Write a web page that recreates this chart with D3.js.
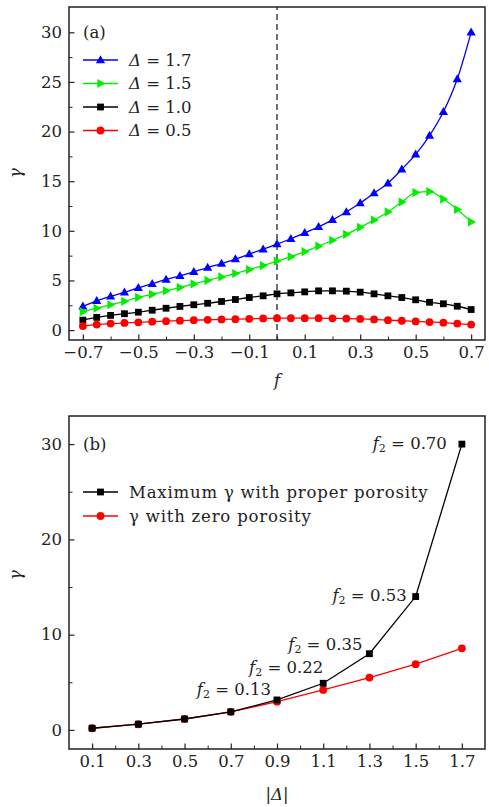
<!DOCTYPE html>
<html>
<head>
<meta charset="utf-8">
<script src="https://cdn.jsdelivr.net/npm/d3@7"></script>
<style>
  html, body { margin: 0; padding: 0; background: #fff; }
  svg { display: block; }
  text { font-family: "DejaVu Serif", "Liberation Serif", serif; fill: #222; }
</style>
</head>
<body>
<svg id="chart" width="489" height="807"></svg>
<script>
// ---------- Panel (a): gamma versus f for several Delta ----------
const fValues = [-0.7, -0.65, -0.6, -0.55, -0.5, -0.45, -0.4, -0.35, -0.3, -0.25, -0.2, -0.15, -0.1,
  -0.05, 0, 0.05, 0.1, 0.15, 0.2, 0.25, 0.3, 0.35, 0.4, 0.45, 0.5, 0.55, 0.6, 0.65, 0.7];

const gammaD17 = [2.4, 2.95, 3.4, 3.8, 4.25, 4.67, 5.1, 5.47, 5.87, 6.3, 6.7, 7.15, 7.65,
  8.15, 8.66, 9.2, 9.8, 10.4, 11.1, 11.9, 12.8, 13.8, 14.8, 16.2, 17.7, 19.6, 22.0, 25.3, 30.0];
const gammaD15 = [1.85, 2.2, 2.55, 2.9, 3.3, 3.6, 3.95, 4.3, 4.65, 5.0, 5.35, 5.7, 6.1,
  6.5, 6.95, 7.4, 7.9, 8.45, 9.05, 9.65, 10.35, 11.1, 11.9, 12.9, 13.85, 13.95, 13.2, 12.15, 10.9];
const gammaD10 = [1.0, 1.28, 1.48, 1.65, 1.8, 2.0, 2.2, 2.38, 2.55, 2.7, 2.88, 3.08, 3.28,
  3.45, 3.65, 3.75, 3.85, 3.95, 3.95, 3.92, 3.82, 3.65, 3.45, 3.28, 3.05, 2.8, 2.65, 2.4, 2.07];
const gammaD05 = [0.4, 0.55, 0.65, 0.72, 0.78, 0.85, 0.9, 0.95, 1.0, 1.03, 1.07, 1.1, 1.13,
  1.17, 1.2, 1.2, 1.2, 1.2, 1.18, 1.16, 1.12, 1.07, 1.0, 0.94, 0.87, 0.81, 0.75, 0.65, 0.55];

const seriesLabelsA = ["1.7", "1.5", "1.0", "0.5"];
const xTicksA = [-0.7, -0.5, -0.3, -0.1, 0.1, 0.3, 0.5, 0.7];
const yTicksA = [0, 5, 10, 15, 20, 25, 30];

// ---------- Panel (b): gamma versus |Delta| ----------
const deltaValues = [0.1, 0.3, 0.5, 0.7, 0.9, 1.1, 1.3, 1.5, 1.7];
const gammaMax = [0.18, 0.6, 1.15, 1.9, 3.15, 4.9, 8.0, 14.0, 30.0];
const gammaZero = [0.18, 0.6, 1.15, 1.9, 2.97, 4.2, 5.5, 6.9, 8.57];
const f2Delta = [0.9, 1.1, 1.3, 1.5, 1.7];
const f2Labels = ["0.13", "0.22", "0.35", "0.53", "0.70"];
const legendLabelsB = ["Maximum γ with proper porosity", "γ with zero porosity"];
const xTicksB = [0.1, 0.3, 0.5, 0.7, 0.9, 1.1, 1.3, 1.5, 1.7];
const yTicksB = [0, 10, 20, 30];

const svg = d3.select("#chart");
const FS = 16.5;
const fmtMinus = d => (d < 0 ? "\u2212" : "") + Math.abs(d).toFixed(1);

function frameAxes(g, x, y, xMajor, xMinor, yMajor, yMinor, xFmt, yFmt) {
  const [x0, x1] = x.range();
  const [y0, y1] = y.range();
  // minor ticks
  g.append("g").attr("transform", `translate(0,${y0})`)
    .call(d3.axisBottom(x).tickValues(xMinor).tickSize(-3.5).tickFormat(""))
    .call(s => s.select(".domain").remove());
  g.append("g").attr("transform", `translate(${x0},0)`)
    .call(d3.axisLeft(y).tickValues(yMinor).tickSize(-3.5).tickFormat(""))
    .call(s => s.select(".domain").remove());
  // major ticks + labels
  const xa = g.append("g").attr("transform", `translate(0,${y0})`)
    .call(d3.axisBottom(x).tickValues(xMajor).tickSize(-5.5).tickPadding(6).tickFormat(xFmt));
  const ya = g.append("g").attr("transform", `translate(${x0},0)`)
    .call(d3.axisLeft(y).tickValues(yMajor).tickSize(-5.5).tickPadding(7).tickFormat(yFmt));
  [xa, ya].forEach(a => {
    a.select(".domain").remove();
    a.selectAll("text").style("font-size", FS + "px").style("font-family", "DejaVu Serif, serif").attr("fill", "#222");
    a.selectAll("line").attr("stroke", "#222").attr("stroke-width", 1.2);
  });
  g.selectAll("line").attr("stroke", "#222");
  // frame
  g.append("rect").attr("x", x0).attr("y", y1).attr("width", x1 - x0).attr("height", y0 - y1)
    .attr("fill", "none").attr("stroke", "#222").attr("stroke-width", 1.5);
}

function drawMarker(sel, shape, color) {
  if (shape === "triUp") {
    sel.append("path").attr("d", "M0,-4.8L4.6,3.2L-4.6,3.2Z").attr("fill", color);
  } else if (shape === "triRight") {
    sel.append("path").attr("d", "M4.8,0L-3.2,4.6L-3.2,-4.6Z").attr("fill", color);
  } else if (shape === "square") {
    sel.append("rect").attr("x", -3.4).attr("y", -3.4).attr("width", 6.8).attr("height", 6.8).attr("fill", color);
  } else {
    sel.append("circle").attr("r", 3.9).attr("fill", color);
  }
}

function drawSeries(g, x, y, xs, ys, color, shape, curve) {
  const pts = xs.map((v, i) => [v, ys[i]]);
  g.append("path").datum(pts)
    .attr("d", d3.line().x(d => x(d[0])).y(d => y(d[1])).curve(curve))
    .attr("fill", "none").attr("stroke", color).attr("stroke-width", 1.3);
  g.selectAll(null).data(pts).enter().append("g")
    .attr("transform", d => `translate(${x(d[0])},${y(d[1])})`)
    .each(function () { drawMarker(d3.select(this), shape, color); });
}

function legendRow(g, xl, yl, color, shape) {
  g.append("line").attr("x1", xl).attr("x2", xl + 35).attr("y1", yl).attr("y2", yl)
    .attr("stroke", color).attr("stroke-width", 1.3);
  drawMarker(g.append("g").attr("transform", `translate(${xl + 17.5},${yl})`), shape, color);
  return g.append("text").attr("x", xl + 46).attr("y", yl).attr("dy", "0.35em")
    .style("font-size", FS + "px");
}

function yTitle(g, xPos, yPos) {
  g.append("text").attr("transform", `translate(${xPos},${yPos}) rotate(-90)`)
    .attr("text-anchor", "middle").attr("dy", "0.3em")
    .style("font-size", FS + "px").style("font-style", "italic").text("γ");
}

// ===== Panel (a) =====
const xA = d3.scaleLinear().domain([-0.75, 0.75]).range([69, 485]);
const yA = d3.scaleLinear().domain([-1.0, 32.55]).range([340, 7]);
const gA = svg.append("g");

// dashed line at f = 0
gA.append("line").attr("x1", xA(0)).attr("x2", xA(0)).attr("y1", yA.range()[0]).attr("y2", yA.range()[1])
  .attr("stroke", "#111").attr("stroke-width", 1.3).attr("stroke-dasharray", "6,4");

const seriesA = [
  { ys: gammaD17, color: "#0000ff", shape: "triUp" },
  { ys: gammaD15, color: "#00ee00", shape: "triRight" },
  { ys: gammaD10, color: "#000000", shape: "square" },
  { ys: gammaD05, color: "#ff0000", shape: "circle" }
];
seriesA.forEach(s => drawSeries(gA, xA, yA, fValues, s.ys, s.color, s.shape, d3.curveMonotoneX));

frameAxes(gA, xA, yA, xTicksA, d3.range(-7, 8).map(d => d / 10).filter(d => !xTicksA.some(t => Math.abs(t - d) < 1e-9)),
  yTicksA, [2.5, 7.5, 12.5, 17.5, 22.5, 27.5], fmtMinus, d3.format("d"));

gA.append("text").attr("x", 83).attr("y", 38).style("font-size", FS + "px").text("(a)");
seriesA.forEach((s, i) => {
  const t = legendRow(gA, 83, 60 + i * 23.5, s.color, s.shape);
  t.append("tspan").style("font-style", "italic").text("Δ");
  t.append("tspan").text(" = " + seriesLabelsA[i]);
});
yTitle(gA, 16, 173);
gA.append("text").attr("x", xA(0)).attr("y", 386).attr("text-anchor", "middle")
  .style("font-size", FS + "px").style("font-style", "italic").text("f");

// ===== Panel (b) =====
const xB = d3.scaleLinear().domain([0.0, 1.8]).range([69, 485]);
const yB = d3.scaleLinear().domain([-2.0, 32.95]).range([749, 416]);
const gB = svg.append("g");

drawSeries(gB, xB, yB, deltaValues, gammaZero, "#ff0000", "circle", d3.curveLinear);
drawSeries(gB, xB, yB, deltaValues, gammaMax, "#000000", "square", d3.curveLinear);

frameAxes(gB, xB, yB, xTicksB, d3.range(2, 18, 2).map(d => d / 10), yTicksB, [5, 15, 25],
  d3.format(".1f"), d3.format("d"));

gB.append("text").attr("x", 83).attr("y", 450).style("font-size", FS + "px").text("(b)");
legendRow(gB, 83, 492, "#000000", "square").style("letter-spacing", "0.8px").text(legendLabelsB[0]);
legendRow(gB, 83, 516, "#ff0000", "circle").style("letter-spacing", "0.8px").text(legendLabelsB[1]);

// f2 annotations next to the maximum-gamma points
const f2Offsets = [[-6, -10], [0, -15], [-7, -9], [-9, -1], [-15, 0]];
f2Delta.forEach((d, i) => {
  const gm = gammaMax[deltaValues.indexOf(d)];
  const t = gB.append("text")
    .attr("x", xB(d) + f2Offsets[i][0]).attr("y", yB(gm) + f2Offsets[i][1]).attr("dy", "0.3em")
    .attr("text-anchor", "end").style("font-size", FS + "px");
  t.append("tspan").style("font-style", "italic").text("f");
  t.append("tspan").attr("dy", 3).style("font-size", "11px").text("2");
  t.append("tspan").attr("dy", -3).text(" = " + f2Labels[i]);
});

yTitle(gB, 16, 575);
const xl = gB.append("text").attr("x", xB(0.9)).attr("y", 800).attr("text-anchor", "middle")
  .style("font-size", FS + "px");
xl.append("tspan").text("|");
xl.append("tspan").style("font-style", "italic").text("Δ");
xl.append("tspan").text("|");
</script>
</body>
</html>
